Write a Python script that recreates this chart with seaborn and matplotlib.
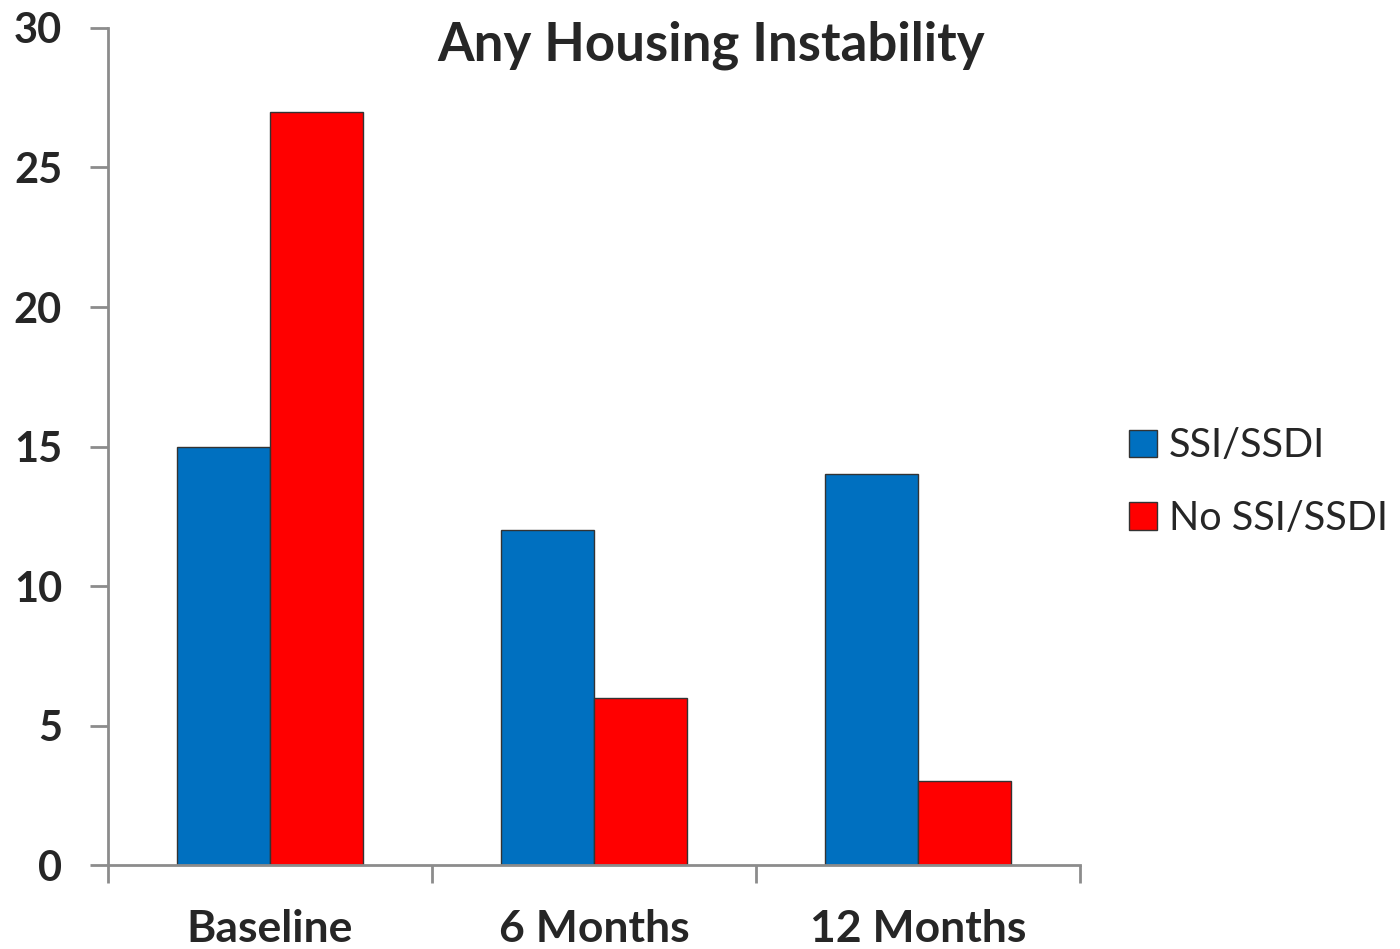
import matplotlib
matplotlib.use("Agg")
import matplotlib.pyplot as plt
import seaborn as sns
import pandas as pd
from matplotlib.patches import Patch

categories = ["Baseline", "6 Months", "12 Months"]
groups = ["SSI/SSDI", "No SSI/SSDI"]
ssi_values = [15, 12, 14]
no_ssi_values = [27, 6, 3]
colors = ["#0070C0", "#FF0000"]
yticks = [0, 5, 10, 15, 20, 25, 30]

df = pd.DataFrame({
    "period": categories * 2,
    "group": [groups[0]] * 3 + [groups[1]] * 3,
    "value": ssi_values + no_ssi_values,
})

sns.set_theme(style="white")
plt.rcParams["font.family"] = ["Lato", "DejaVu Sans"]

fig = plt.figure(figsize=(14, 9.49), dpi=100)
ax = fig.add_axes([0.0771, 0.0885, 0.6943, 0.882])

sns.barplot(data=df, x="period", y="value", hue="group", order=categories,
            hue_order=groups, palette=colors, width=0.575, ax=ax,
            edgecolor="#333333", linewidth=1.0, saturation=1, legend=False)

axis_color = "#8C8C8C"
ax.set_xlim(-0.5, 2.5)
ax.set_ylim(0, 30)
ax.set_yticks(yticks)
ax.set_yticklabels([str(t) for t in yticks], fontsize=30, fontweight="bold")
ax.set_xticks(range(len(categories)))
ax.set_xticklabels(categories, fontsize=32, fontweight="bold")
ax.set_xticks([-0.5, 0.5, 1.5, 2.5], minor=True)
ax.tick_params(axis="x", which="major", bottom=True, length=0, pad=32)
ax.tick_params(axis="x", which="minor", bottom=True, length=13, width=2,
               color=axis_color, direction="out")
ax.tick_params(axis="y", left=True, length=13, width=2, color=axis_color,
               direction="out", pad=20)
ax.set_xlabel("")
ax.set_ylabel("")
for side in ["top", "right"]:
    ax.spines[side].set_visible(False)
for side in ["left", "bottom"]:
    ax.spines[side].set_color(axis_color)
    ax.spines[side].set_linewidth(2)

fig.text(0.508, 0.952, "Any Housing Instability", ha="center", va="center",
         fontsize=38, fontweight="bold")

handles = [Patch(facecolor=c, edgecolor="#333333", linewidth=1.0) for c in colors]
fig.legend(handles, groups, loc="center left", bbox_to_anchor=(0.781, 0.492),
           frameon=False, fontsize=28.5, handlelength=0.7, handleheight=0.7,
           handletextpad=0.3, labelspacing=0.9)

fig.savefig("out.png", dpi=100)
